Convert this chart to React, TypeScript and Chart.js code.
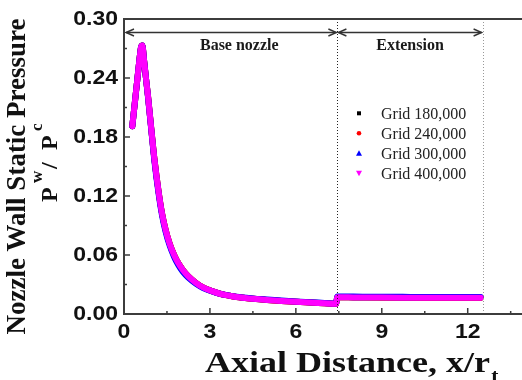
import React, { useEffect, useRef } from "react";
import { Chart, registerables } from "chart.js";
Chart.register(...registerables);

// Axial distance x/r_t
const xPos = [0.29, 0.36, 0.43, 0.50, 0.56, 0.60, 0.64, 0.70, 0.77, 0.84, 0.96, 1.06, 1.21, 1.33, 1.45, 1.60, 1.75, 1.89, 2.05, 2.24, 2.50, 2.76, 3.05, 3.35, 3.69, 3.93, 4.50, 5.00, 5.50, 6.00, 6.50, 7.00, 7.40, 7.45, 8.00, 9.00, 10.00, 11.00, 12.00, 12.45];
// Pw/Pc per grid
const grid180 = [0.191, 0.210, 0.229, 0.248, 0.264, 0.272, 0.273, 0.258, 0.239, 0.221, 0.186, 0.158, 0.124, 0.102, 0.086, 0.071, 0.060, 0.052, 0.045, 0.0385, 0.032, 0.027, 0.0235, 0.0206, 0.0185, 0.0172, 0.0155, 0.0143, 0.0133, 0.0124, 0.0116, 0.0109, 0.0103, 0.0170, 0.0169, 0.0167, 0.0166, 0.0165, 0.0164, 0.0164];
const grid240 = [0.191, 0.210, 0.229, 0.248, 0.264, 0.272, 0.273, 0.258, 0.239, 0.221, 0.186, 0.158, 0.124, 0.102, 0.086, 0.071, 0.060, 0.052, 0.045, 0.0385, 0.032, 0.027, 0.0235, 0.0206, 0.0185, 0.0172, 0.0155, 0.0143, 0.0133, 0.0124, 0.0116, 0.0109, 0.0103, 0.0171, 0.0170, 0.0168, 0.0167, 0.0166, 0.0165, 0.0165];
const grid300 = [0.191, 0.210, 0.229, 0.248, 0.264, 0.272, 0.273, 0.258, 0.239, 0.220, 0.185, 0.156, 0.122, 0.100, 0.084, 0.069, 0.058, 0.050, 0.043, 0.037, 0.031, 0.0265, 0.0233, 0.0206, 0.0187, 0.0175, 0.0158, 0.0147, 0.0137, 0.0128, 0.0120, 0.0113, 0.0107, 0.0178, 0.0177, 0.0175, 0.0174, 0.0173, 0.0172, 0.0172];
const grid400 = [0.191, 0.210, 0.229, 0.248, 0.264, 0.272, 0.273, 0.258, 0.239, 0.221, 0.186, 0.158, 0.124, 0.102, 0.086, 0.071, 0.060, 0.052, 0.045, 0.0385, 0.032, 0.027, 0.0235, 0.0206, 0.0185, 0.0172, 0.0155, 0.0143, 0.0133, 0.0124, 0.0116, 0.0109, 0.0103, 0.0170, 0.0169, 0.0167, 0.0166, 0.0165, 0.0164, 0.0164];

const seriesLabels = ["Grid 180,000", "Grid 240,000", "Grid 300,000", "Grid 400,000"];
const seriesColors = ["#000000", "#ff0000", "#0000ff", "#ff00ff"];
const seriesMarkers = ["rect", "circle", "triangle", "invtriangle"];

const xTicks = [0, 3, 6, 9, 12];
const xMinor = [1.5, 4.5, 7.5, 10.5, 13.5];
const yTicks = [0, 0.06, 0.12, 0.18, 0.24, 0.30];
const yMinor = [0.03, 0.09, 0.15, 0.21, 0.27];

const sectionLabels = ["Base nozzle", "Extension"];
const sectionBounds = [0, 7.45, 12.52];
const arrowLevel = 0.287;
const sectionLabelLevel = 0.273;

const CW = 560;
const CH = 380;

const deco = {
  id: "deco",
  afterDatasetsDraw(chart: any) {
    const { ctx, chartArea: ca, scales } = chart;
    const xs = scales.x;
    const ys = scales.y;
    ctx.save();

    // dotted section lines
    ctx.lineWidth = 1;
    ctx.setLineDash([1, 2]);
    ctx.strokeStyle = "#222";
    let px = Math.round(xs.getPixelForValue(sectionBounds[1])) + 0.5;
    ctx.beginPath(); ctx.moveTo(px, ca.top); ctx.lineTo(px, ca.bottom); ctx.stroke();
    ctx.strokeStyle = "#999";
    px = Math.round(xs.getPixelForValue(sectionBounds[2])) + 0.5;
    ctx.beginPath(); ctx.moveTo(px, ca.top); ctx.lineTo(px, ca.bottom); ctx.stroke();
    ctx.setLineDash([]);

    // arrows
    const ay = Math.round(ys.getPixelForValue(arrowLevel)) + 0.5;
    ctx.strokeStyle = "#333";
    ctx.lineWidth = 1.4;
    const head = (x0: number, dir: number) => {
      ctx.beginPath();
      ctx.moveTo(x0 - dir * 8, ay - 3.5);
      ctx.lineTo(x0, ay);
      ctx.lineTo(x0 - dir * 8, ay + 3.5);
      ctx.stroke();
    };
    for (let i = 0; i < 2; i++) {
      const a = xs.getPixelForValue(sectionBounds[i]) + (i === 0 ? 2 : 1);
      const b = xs.getPixelForValue(sectionBounds[i + 1]) - 1;
      ctx.beginPath(); ctx.moveTo(a, ay); ctx.lineTo(b, ay); ctx.stroke();
      head(a, -1);
      head(b, 1);
    }

    // section labels
    ctx.fillStyle = "#1a1a1a";
    ctx.font = "bold 16px 'Liberation Serif', serif";
    ctx.textAlign = "center";
    ctx.textBaseline = "middle";
    const ly = ys.getPixelForValue(sectionLabelLevel);
    ctx.fillText(sectionLabels[0], xs.getPixelForValue((sectionBounds[0] + sectionBounds[1]) / 2 + 0.3), ly);
    ctx.fillText(sectionLabels[1], xs.getPixelForValue((sectionBounds[1] + sectionBounds[2]) / 2), ly);

    // axes frame
    ctx.strokeStyle = "#3c3c3c";
    ctx.lineWidth = 2;
    ctx.beginPath();
    ctx.moveTo(ca.right + 5, ca.top);
    ctx.lineTo(ca.left, ca.top);
    ctx.lineTo(ca.left, ca.bottom);
    ctx.lineTo(ca.right + 5, ca.bottom);
    ctx.stroke();

    // ticks (inward)
    ctx.lineWidth = 1.5;
    ctx.beginPath();
    yTicks.forEach((v) => { const p = ys.getPixelForValue(v); ctx.moveTo(ca.left, p); ctx.lineTo(ca.left + 6, p); });
    yMinor.forEach((v) => { const p = ys.getPixelForValue(v); ctx.moveTo(ca.left, p); ctx.lineTo(ca.left + 3, p); });
    xTicks.forEach((v) => { const p = xs.getPixelForValue(v); ctx.moveTo(p, ca.bottom); ctx.lineTo(p, ca.bottom - 6); });
    xMinor.forEach((v) => { const p = xs.getPixelForValue(v); ctx.moveTo(p, ca.bottom); ctx.lineTo(p, ca.bottom - 3); });
    ctx.stroke();

    // tick labels
    ctx.fillStyle = "#111";
    ctx.font = "bold 20px 'Liberation Sans', Arial, sans-serif";
    ctx.textBaseline = "middle";
    const sx = 1.15;
    yTicks.forEach((v) => {
      ctx.save();
      ctx.translate(ca.left - 6, ys.getPixelForValue(v));
      ctx.scale(sx, 1);
      ctx.textAlign = "right";
      ctx.fillText(v.toFixed(2), 0, 0);
      ctx.restore();
    });
    xTicks.forEach((v) => {
      ctx.save();
      ctx.translate(xs.getPixelForValue(v), ca.bottom + 18);
      ctx.scale(sx, 1);
      ctx.textAlign = "center";
      ctx.fillText(String(v), 0, 0);
      ctx.restore();
    });

    // x title
    ctx.save();
    ctx.translate(205, 372);
    ctx.scale(1.2, 1);
    ctx.textAlign = "left";
    ctx.textBaseline = "alphabetic";
    ctx.font = "bold 30px 'Liberation Serif', serif";
    const main = "Axial Distance, x/r";
    ctx.fillText(main, 0, 0);
    const w = ctx.measureText(main).width;
    ctx.font = "bold 18px 'Liberation Serif', serif";
    ctx.fillText("t", w + 1, 10);
    ctx.restore();

    // y title
    ctx.save();
    ctx.translate(25, 176.5);
    ctx.rotate(-Math.PI / 2);
    ctx.textAlign = "center";
    ctx.textBaseline = "alphabetic";
    ctx.font = "bold 27px 'Liberation Serif', serif";
    ctx.fillText("Nozzle Wall Static Pressure", 0, 0);
    ctx.restore();

    ctx.save();
    ctx.translate(57, 202);
    ctx.rotate(-Math.PI / 2);
    ctx.textAlign = "left";
    ctx.textBaseline = "alphabetic";
    ctx.font = "bold 24px 'Liberation Serif', serif";
    ctx.fillText("P", 0, 0);
    ctx.fillText("/", 33, 0);
    ctx.fillText("P", 52, 0);
    ctx.font = "bold 17px 'Liberation Serif', serif";
    ctx.fillText("w", 19, -15);
    ctx.fillText("c", 71, -15);
    ctx.restore();

    // legend
    const rows = [113.3, 133.3, 153.3, 173.3];
    const mx = 359;
    ctx.font = "16px 'Liberation Serif', serif";
    ctx.textAlign = "left";
    ctx.textBaseline = "middle";
    seriesLabels.forEach((lab, i) => {
      const y = rows[i];
      ctx.fillStyle = seriesColors[i];
      ctx.beginPath();
      const m = seriesMarkers[i];
      if (m === "rect") ctx.rect(mx - 2, y - 2, 4, 4);
      else if (m === "circle") ctx.arc(mx, y, 2.3, 0, Math.PI * 2);
      else if (m === "triangle") { ctx.moveTo(mx, y - 3); ctx.lineTo(mx + 3, y + 2.5); ctx.lineTo(mx - 3, y + 2.5); ctx.closePath(); }
      else { ctx.moveTo(mx, y + 3); ctx.lineTo(mx + 3, y - 2.5); ctx.lineTo(mx - 3, y - 2.5); ctx.closePath(); }
      ctx.fill();
      ctx.fillStyle = "#222";
      ctx.fillText(lab, 381, y + 1);
    });

    ctx.restore();
  },
};

export default function App() {
  const ref = useRef<HTMLCanvasElement | null>(null);
  useEffect(() => {
    if (!ref.current) return;
    const allSeries = [grid180, grid240, grid300, grid400];
    const orders = [3, 2, 1, 0];
    const chart = new Chart(ref.current, {
      type: "line",
      data: {
        datasets: allSeries.map((s, i) => ({
          label: seriesLabels[i],
          data: xPos.map((x, k) => ({ x, y: s[k] })),
          borderColor: seriesColors[i],
          backgroundColor: seriesColors[i],
          borderWidth: 6,
          pointRadius: 0,
          tension: 0.3,
          cubicInterpolationMode: "monotone",
          fill: false,
          borderJoinStyle: "round",
          borderCapStyle: "round",
          order: orders[i],
        })) as any,
      },
      options: {
        responsive: false,
        animation: false,
        devicePixelRatio: 1,
        layout: { padding: { left: 124, top: 19, right: CW - 525, bottom: CH - 314 } },
        scales: {
          x: { type: "linear", min: 0, max: 14, display: false },
          y: { type: "linear", min: 0, max: 0.3, display: false },
        },
        plugins: { legend: { display: false }, tooltip: { enabled: false } },
      },
      plugins: [deco],
    } as any);
    return () => chart.destroy();
  }, []);
  return (
    <div style={{ position: "fixed", left: 0, top: 0, width: 522, height: 380, overflow: "hidden", background: "#fff" }}>
      <canvas ref={ref} width={CW} height={CH} style={{ display: "block", width: CW, height: CH }} />
    </div>
  );
}
